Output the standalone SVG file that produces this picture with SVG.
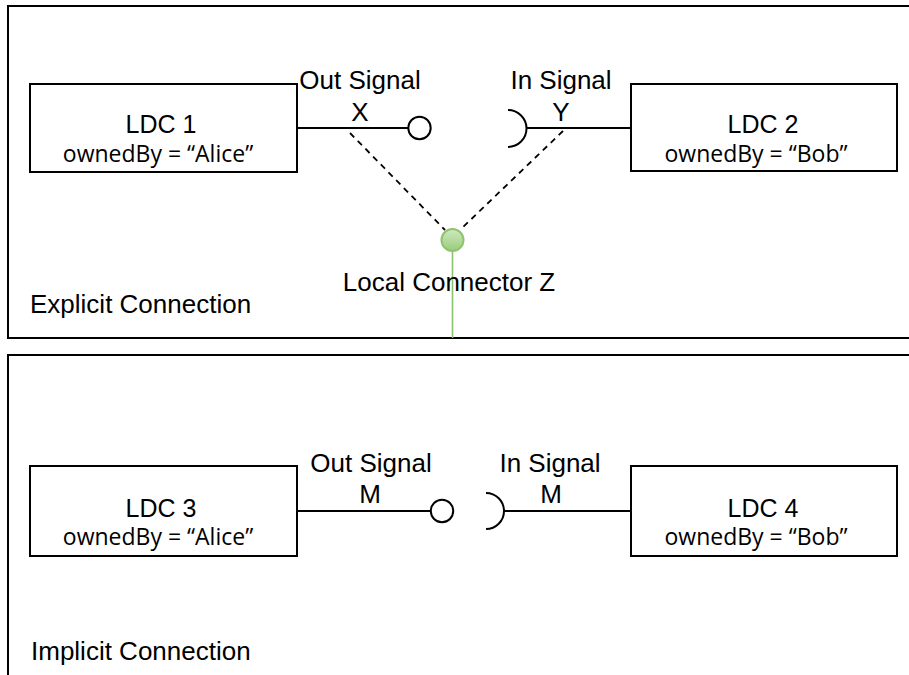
<svg xmlns="http://www.w3.org/2000/svg" width="909" height="675" viewBox="0 0 909 675">
  <defs>
    <linearGradient id="greenFill" x1="0" y1="0" x2="0" y2="1">
      <stop offset="0" stop-color="#cfe9bf"/>
      <stop offset="1" stop-color="#99cc7c"/>
    </linearGradient>
  </defs>
  <style>
    .frame { fill: none; stroke: #000; stroke-width: 2; }
    .box { fill: #fff; stroke: #000; stroke-width: 2; }
    .wire { fill: none; stroke: #000; stroke-width: 2; }
    .dash { fill: none; stroke: #000; stroke-width: 1.8; stroke-dasharray: 6 5; }
    .port { fill: #fff; stroke: #000; stroke-width: 2; }
    .lbl { font-family: "Liberation Sans", Arial, Helvetica, sans-serif; font-size: 26px; fill: #000; }
    .title { font-family: "Liberation Sans", Arial, Helvetica, sans-serif; font-size: 25px; fill: #000; text-anchor: middle; }
    .owner { font-family: "Open Sans", "Noto Sans", sans-serif; font-size: 23px; fill: #000; text-anchor: middle; }
    .mid { text-anchor: middle; }
  </style>

  <!-- section frames (run off the right/bottom edge) -->
  <g id="explicit-frame">
    <rect class="frame" x="8" y="6" width="920" height="332"/>
    <text class="lbl" x="30" y="313">Explicit Connection</text>
  </g>
  <g id="implicit-frame">
    <rect class="frame" x="8" y="355" width="920" height="340"/>
    <text class="lbl" x="31" y="660">Implicit Connection</text>
  </g>

  <!-- connectors -->
  <g id="connectors">
    <!-- explicit: LDC 1 out port X, LDC 2 in port Y -->
    <line class="wire" x1="297" y1="128" x2="408" y2="128"/>
    <line class="wire" x1="527" y1="128" x2="631" y2="128"/>
    <path class="wire" d="M508,110 A18.5,18.5 0 0 1 508,147"/>
    <line class="dash" x1="350" y1="133" x2="445" y2="230"/>
    <line class="dash" x1="563" y1="131" x2="461" y2="229"/>
    <line x1="452.5" y1="251" x2="452.5" y2="338" stroke="#8dc26d" stroke-width="1.6"/>
    <!-- implicit: LDC 3 out port M, LDC 4 in port M -->
    <line class="wire" x1="297" y1="511" x2="431" y2="511"/>
    <line class="wire" x1="504" y1="511" x2="631" y2="511"/>
    <path class="wire" d="M486,493 A18,18 0 0 1 486,529"/>
  </g>

  <!-- ports -->
  <g id="port-x">
    <circle class="port" cx="419.5" cy="128" r="11.2"/>
    <text class="lbl mid" x="360" y="89">Out Signal</text>
    <text class="lbl mid" x="360" y="121">X</text>
  </g>
  <g id="port-y">
    <text class="lbl mid" x="561" y="89">In Signal</text>
    <text class="lbl mid" x="561" y="121">Y</text>
  </g>
  <g id="local-connector-z">
    <circle cx="452.5" cy="240" r="11" fill="url(#greenFill)" stroke="#8ec36f" stroke-width="2"/>
    <text class="lbl mid" x="449" y="291">Local Connector Z</text>
  </g>
  <g id="port-m-out">
    <circle class="port" cx="442" cy="511" r="11.2"/>
    <text class="lbl mid" x="371" y="472">Out Signal</text>
    <text class="lbl mid" x="370" y="503">M</text>
  </g>
  <g id="port-m-in">
    <text class="lbl mid" x="550" y="472">In Signal</text>
    <text class="lbl mid" x="551" y="503">M</text>
  </g>

  <!-- LDC nodes -->
  <g id="ldc1">
    <rect class="box" x="30" y="84" width="267" height="88"/>
    <text class="title" x="161" y="133">LDC 1</text>
    <text class="owner" x="158" y="162">ownedBy = “Alice”</text>
  </g>
  <g id="ldc2">
    <rect class="box" x="631" y="84" width="266" height="87"/>
    <text class="title" x="763" y="133">LDC 2</text>
    <text class="owner" x="756" y="162">ownedBy = “Bob”</text>
  </g>
  <g id="ldc3">
    <rect class="box" x="30" y="466" width="267" height="90"/>
    <text class="title" x="161" y="517">LDC 3</text>
    <text class="owner" x="158" y="545">ownedBy = “Alice”</text>
  </g>
  <g id="ldc4">
    <rect class="box" x="631" y="466" width="266" height="90"/>
    <text class="title" x="763" y="517">LDC 4</text>
    <text class="owner" x="756" y="545">ownedBy = “Bob”</text>
  </g>
</svg>
